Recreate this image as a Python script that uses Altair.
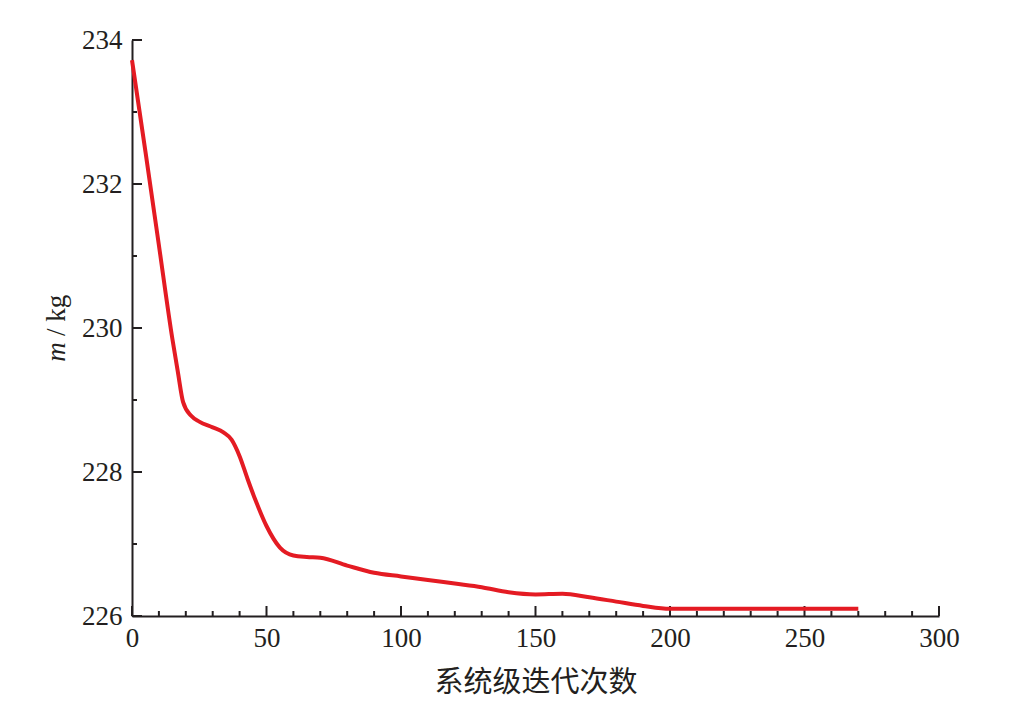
import altair as alt
import pandas as pd

# data
iters = [0, 5, 10, 15, 17, 19, 22, 25, 30, 34, 37, 40, 43, 46, 50, 55, 60, 65, 70, 80, 90,
         100, 110, 120, 130, 140, 150, 160, 170, 180, 190, 200, 210, 220, 240, 270]
mass = [233.72, 232.45, 231.15, 229.85, 229.4, 228.97, 228.78, 228.7, 228.62, 228.55,
        228.45, 228.22, 227.9, 227.6, 227.25, 226.95, 226.84, 226.82, 226.81, 226.7, 226.6,
        226.55, 226.5, 226.45, 226.4, 226.33, 226.3, 226.31, 226.26, 226.2, 226.14,
        226.1, 226.1, 226.1, 226.1, 226.1]

x_major = [0, 50, 100, 150, 200, 250, 300]
x_minor = [v for v in range(10, 300, 10) if v % 50 != 0]
y_major = [226, 228, 230, 232, 234]
y_minor = [227, 229, 231, 233]

W, H = 807, 576
AX = "#231f20"
SERIF = "Liberation Serif"

df = pd.DataFrame({"iter": iters, "m": mass})
xscale = alt.Scale(domain=[0, 300], nice=False, zero=False)
yscale = alt.Scale(domain=[226, 234], nice=False, zero=False)

xaxis = alt.Axis(values=x_major, tickSize=0, labelPadding=9, domainColor=AX,
                 domainWidth=2, grid=False, labelFont=SERIF, labelFontSize=27,
                 labelColor=AX, title="系统级迭代次数", titleFont="Noto Sans CJK SC",
                 titleFontSize=29, titleFontWeight="normal", titleColor=AX,
                 titlePadding=17, labelFlush=False, format="d")
yaxis = alt.Axis(values=y_major, tickSize=0, labelPadding=10, domainColor=AX,
                 domainWidth=2, grid=False, labelFont=SERIF, labelFontSize=27,
                 labelColor=AX, title=None, labelFlush=False, format="d")

line = alt.Chart(df).mark_line(color="#e41b23", strokeWidth=4, interpolate="monotone").encode(
    x=alt.X("iter:Q", scale=xscale, axis=xaxis),
    y=alt.Y("m:Q", scale=yscale, axis=yaxis),
)

def xticks(vals, length):
    return alt.Chart(pd.DataFrame({"iter": vals})).mark_rule(color=AX, strokeWidth=2).encode(
        x=alt.X("iter:Q", scale=xscale, axis=xaxis),
        y=alt.value(H), y2=alt.value(H - length))

def yticks(vals, length):
    return alt.Chart(pd.DataFrame({"m": vals})).mark_rule(color=AX, strokeWidth=2).encode(
        y=alt.Y("m:Q", scale=yscale, axis=yaxis),
        x=alt.value(0), x2=alt.value(length))

ytitle_m = alt.Chart(pd.DataFrame({"t": ["m"]})).mark_text(
    font=SERIF, fontSize=27, fontStyle="italic", angle=270, align="center",
    baseline="middle", color=AX).encode(text="t:N", x=alt.value(-75), y=alt.value(312))
ytitle_kg = alt.Chart(pd.DataFrame({"t": ["/ kg"]})).mark_text(
    font=SERIF, fontSize=27, angle=270, align="left",
    baseline="middle", color=AX).encode(text="t:N", x=alt.value(-75), y=alt.value(296))

chart = alt.layer(
    xticks(x_major, 10), xticks(x_minor, 5), yticks(y_major, 10), yticks(y_minor, 5),
    line, ytitle_m, ytitle_kg
).properties(
    width=W, height=H,
    autosize=alt.AutoSizeParams(type="none"),
    padding={"left": 124, "top": 32, "right": 70, "bottom": 85},
).configure(background="white").configure_view(stroke=None)

chart.save("out.html", embed_options={"renderer": "svg", "actions": False})
